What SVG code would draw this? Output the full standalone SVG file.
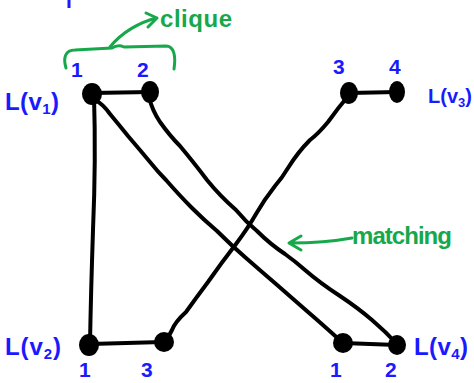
<svg xmlns="http://www.w3.org/2000/svg" width="474" height="383" viewBox="0 0 474 383">
<style>
.edge{fill:none;stroke:#000;stroke-width:4;stroke-linecap:round;stroke-linejoin:round}
.dot{fill:#000}
.lbl{font-family:"Liberation Sans",Arial,sans-serif;fill:#1a1aff;font-size:21px;font-weight:bold}
.big{font-family:"Liberation Sans",Arial,sans-serif;fill:#1a1aff;font-size:24px;font-weight:bold}
.sub{font-size:15px}
.ann{font-family:"Liberation Sans",Arial,sans-serif;fill:#16a84a;font-size:24px;font-weight:bold}
.g{fill:none;stroke:#16a84a;stroke-width:3;stroke-linecap:round;stroke-linejoin:round}
</style>
<rect width="474" height="383" fill="#fff"/>
<path d="M69,0 L69,8" stroke="#1a1aff" stroke-width="3" fill="none"/>
<g id="connectors">
<path class="edge" d="M92,93 L150,92"/>
<path class="edge" d="M349,93 L397,92"/>
<path class="edge" d="M90,344 L163,342"/>
<path class="edge" d="M343,343 L397,345"/>
<path class="edge" d="M94,96 Q96,160 93,230 Q91,290 90,343"/>
<path class="edge" d="M95,100 Q103,104 110,114 Q120,126 128,136 Q140,150 150,162 Q158,172 166,180 Q180,196 192,208 Q204,220 217,231 Q232,246 246,258 Q262,272 276,284 Q292,298 308,312 Q322,324 343,343"/>
<path class="edge" d="M149,97 Q152,110 160,122 Q170,136 180,146 Q195,164 207,180 Q220,196 236,210 Q246,222 257,231 Q270,244 285,254 Q296,262 305,270 Q320,283 340,296 Q358,308 372,320 Q386,332 397,344"/>
<path class="edge" d="M349,95 Q338,108 328,122 Q318,134 310,140 Q298,152 288,168 Q282,178 275,186 Q264,200 256,214 Q248,228 236,244 Q222,262 208,282 Q196,298 186,312 Q175,322 172,330 Q168,338 164,342"/>
</g>
<g id="v1_1"><ellipse class="dot" cx="92" cy="94" rx="10" ry="11"/><text class="lbl" x="71" y="77">1</text></g>
<g id="v1_2"><ellipse class="dot" cx="150" cy="92" rx="9" ry="11"/><text class="lbl" x="137" y="77">2</text></g>
<g id="v3_3"><ellipse class="dot" cx="349" cy="93" rx="9" ry="11"/><text class="lbl" x="333" y="74">3</text></g>
<g id="v3_4"><ellipse class="dot" cx="397" cy="92" rx="8" ry="11"/><text class="lbl" x="389" y="74">4</text></g>
<g id="v2_1"><ellipse class="dot" cx="89" cy="345" rx="10" ry="11"/><text class="lbl" x="79" y="377">1</text></g>
<g id="v2_3"><ellipse class="dot" cx="164" cy="342" rx="10" ry="10"/><text class="lbl" x="141" y="377">3</text></g>
<g id="v4_1"><ellipse class="dot" cx="343" cy="343" rx="10" ry="10"/><text class="lbl" x="330" y="377">1</text></g>
<g id="v4_2"><ellipse class="dot" cx="397" cy="345" rx="9" ry="10"/><text class="lbl" x="385" y="377">2</text></g>
<g id="L_v1"><text class="big" x="5" y="110" textLength="54">L(v<tspan class="sub" dy="4">1</tspan><tspan dy="-4">)</tspan></text></g>
<g id="L_v3"><text class="big" x="428" y="103" style="font-size:20px">L(v<tspan style="font-size:13px" dy="4">3</tspan><tspan dy="-4">)</tspan></text></g>
<g id="L_v2"><text class="big" x="5" y="355" textLength="56">L(v<tspan class="sub" dy="4">2</tspan><tspan dy="-4">)</tspan></text></g>
<g id="L_v4"><text class="big" x="414" y="355" textLength="54">L(v<tspan class="sub" dy="4">4</tspan><tspan dy="-4">)</tspan></text></g>
<g id="clique">
<path class="g" d="M66,68 C63,58 65,50 75,50 L112,48 Q118,44 124,47 L166,46 C174,46 176,56 174,69"/>
<path class="g" d="M110,47 C122,32 140,22 157,18 M146,13 L157,18 L148,27"/>
<text class="ann" x="160" y="27" textLength="72">clique</text>
</g>
<g id="matching">
<path class="g" d="M352,238 C330,242 310,243 290,243 M301,236 L289,243 L301,250"/>
<text class="ann" x="352" y="244" textLength="100">matching</text>
</g>
</svg>
